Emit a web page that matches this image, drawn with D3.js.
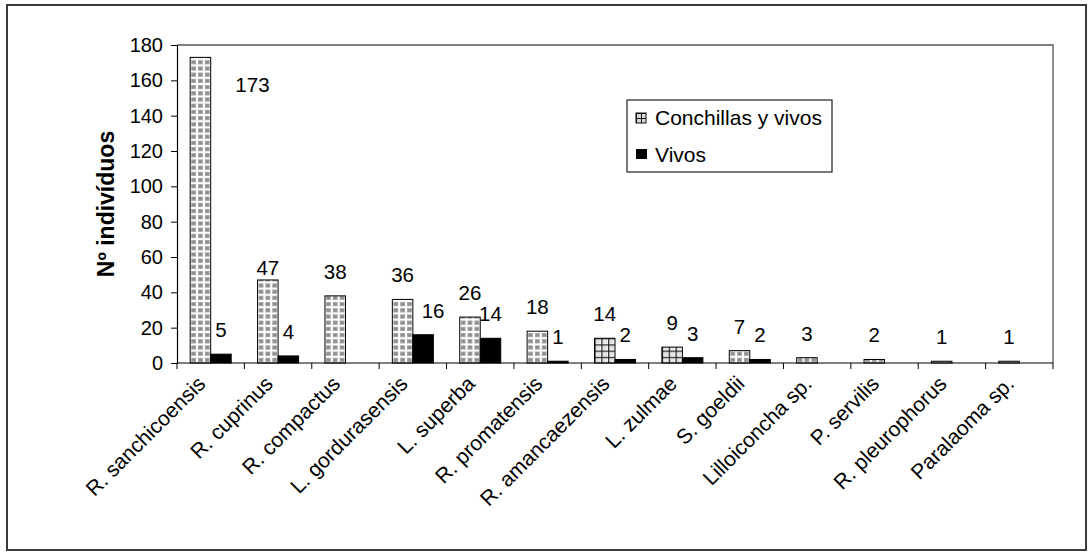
<!DOCTYPE html>
<html><head><meta charset="utf-8">
<script src="https://cdn.jsdelivr.net/npm/d3@7"></script>
<style>body{margin:0;background:#fff} text{font-family:"Liberation Sans",Arial,sans-serif}</style>
</head><body><svg id="c" width="1089" height="552"></svg>
<script>
const categories = ["R. sanchicoensis","R. cuprinus","R. compactus","L. gordurasensis","L. superba","R. promatensis","R. amancaezensis","L. zulmae","S. goeldii","Lilloiconcha sp.","P. servilis","R. pleurophorus","Paralaoma sp."];
const conchillas = [173,47,38,36,26,18,14,9,7,3,2,1,1];
const vivos = [5,4,null,16,14,1,2,3,2,null,null,null,null];
const yTicks = [0,20,40,60,80,100,120,140,160,180];
const seriesNames = ["Conchillas y vivos","Vivos"];
const yTitle = "Nº indivíduos";

// styling (not data)
const gridPatternCats = ["R. amancaezensis","L. zulmae"];
const labelNudge = {"0-R. sanchicoensis":[52,52],"0-R. cuprinus":[0,12],"1-L. gordurasensis":[10,0]};

const svg = d3.select("#c");
const m = {left:177, top:45, right:1053, bottom:363};
const x0 = d3.scaleBand().domain(categories).range([m.left,m.right]).padding(0);
const bw = x0.bandwidth();
const x1 = d3.scaleBand().domain(seriesNames).range([0,bw]).paddingInner(0).paddingOuter(0.643);
const y = d3.scaleLinear().domain([0,180]).range([m.bottom,m.top]);

// outer border
svg.append("rect").attr("x",7).attr("y",5).attr("width",1079).attr("height",545)
  .attr("fill","none").attr("stroke","#3a3a3a").attr("stroke-width",2);

// patterns, one per category aligned with bar
const defs = svg.append("defs");
const cw = x1.bandwidth()/3;
categories.forEach((c,i)=>{
  const bx = x0(c)+x1(seriesNames[0]);
  const p = defs.append("pattern").attr("id","p"+i).attr("patternUnits","userSpaceOnUse")
    .attr("x",bx).attr("y",m.bottom).attr("width",cw).attr("height",6.2);
  p.append("rect").attr("width",cw).attr("height",6.2).attr("fill","#fff");
  if (gridPatternCats.includes(c)) {
    p.append("rect").attr("x",0.8).attr("y",0.8).attr("width",cw-1.6).attr("height",4.6).attr("fill","#e4e4e4");
    p.append("rect").attr("x",0).attr("y",0).attr("width",cw).attr("height",1.1).attr("fill","#111");
    p.append("rect").attr("x",0).attr("y",0).attr("width",1.1).attr("height",6.2).attr("fill","#111");
  } else {
    p.append("rect").attr("x",1.0).attr("y",1.0).attr("width",cw-2.0).attr("height",4.2).attr("fill","#a0a0a0");
    p.append("rect").attr("x",2.2).attr("y",2.1).attr("width",cw-4.4).attr("height",2.0).attr("fill","#868686");
  }
});
const lp = defs.append("pattern").attr("id","legp").attr("patternUnits","userSpaceOnUse")
  .attr("x",636).attr("y",113).attr("width",5).attr("height",5);
lp.append("rect").attr("width",5).attr("height",5).attr("fill","#d8d8d8");
lp.append("rect").attr("width",5).attr("height",1).attr("fill","#111");
lp.append("rect").attr("width",1).attr("height",5).attr("fill","#111");

// plot frame
svg.append("path").attr("d",`M${m.left},${m.top}H${m.right}V${m.bottom}`)
  .attr("fill","none").attr("stroke","#555").attr("stroke-width",1.3);

// bars
const rows = categories.map((c,i)=>({c,i,vals:[conchillas[i],vivos[i]]}));
const g = svg.append("g");
rows.forEach(r=>{
  r.vals.forEach((v,s)=>{
    if (v==null) return;
    const bx = x0(r.c)+x1(seriesNames[s]);
    g.append("rect").attr("x",bx).attr("y",y(v)).attr("width",x1.bandwidth()).attr("height",y(0)-y(v))
      .attr("fill", s===0 ? `url(#p${r.i})` : "#000")
      .attr("stroke","#000").attr("stroke-width",1);
  });
});

// value labels
rows.forEach(r=>{
  r.vals.forEach((v,s)=>{
    if (v==null) return;
    const n = labelNudge[s+"-"+r.c] || [0,0];
    const cx = x0(r.c)+x1(seriesNames[s])+x1.bandwidth()/2;
    svg.append("text").attr("x",cx+n[0]).attr("y",y(v)-17+n[1]).attr("text-anchor","middle")
      .attr("font-size",20.5).attr("fill","#000").text(v);
  });
});

// y axis
const ya = svg.append("g").attr("transform",`translate(${m.left},0)`)
  .call(d3.axisLeft(y).tickValues(yTicks).tickSize(6).tickPadding(8));
ya.select(".domain").attr("stroke","#000").attr("stroke-width",1.2);
ya.selectAll(".tick line").attr("stroke","#000");
ya.selectAll("text").attr("font-size",20).attr("font-family","Liberation Sans, Arial, sans-serif").attr("fill","#000");

// x axis
svg.append("line").attr("x1",m.left).attr("x2",m.right).attr("y1",m.bottom).attr("y2",m.bottom)
  .attr("stroke","#000").attr("stroke-width",1.2);
const bounds = categories.map(c=>x0(c)).concat([m.right]);
svg.selectAll(".xt").data(bounds).enter().append("line")
  .attr("x1",d=>d).attr("x2",d=>d).attr("y1",m.bottom).attr("y2",m.bottom+6).attr("stroke","#000");
svg.selectAll(".xl").data(categories).enter().append("text")
  .attr("transform",d=>`translate(${x0(d)+bw/2-4},${385}) rotate(-45)`)
  .attr("text-anchor","end").attr("font-size",21).attr("fill","#000").text(d=>d);

// y title
svg.append("text").attr("transform",`translate(114,${(m.top+m.bottom)/2}) rotate(-90)`)
  .attr("text-anchor","middle").attr("font-size",23).attr("font-weight","bold").attr("fill","#000").text(yTitle);

// legend
svg.append("rect").attr("x",627).attr("y",100).attr("width",205).attr("height",72)
  .attr("fill","#fff").attr("stroke","#333").attr("stroke-width",1.3);
svg.append("rect").attr("x",636).attr("y",113).attr("width",10).attr("height",10)
  .attr("fill","url(#legp)").attr("stroke","#111").attr("stroke-width",1);
svg.append("rect").attr("x",636).attr("y",149).attr("width",11).attr("height",10).attr("fill","#000");
svg.append("text").attr("x",655).attr("y",125).attr("font-size",21).attr("fill","#000").text(seriesNames[0]);
svg.append("text").attr("x",655).attr("y",162).attr("font-size",21).attr("fill","#000").text(seriesNames[1]);
</script></body></html>
